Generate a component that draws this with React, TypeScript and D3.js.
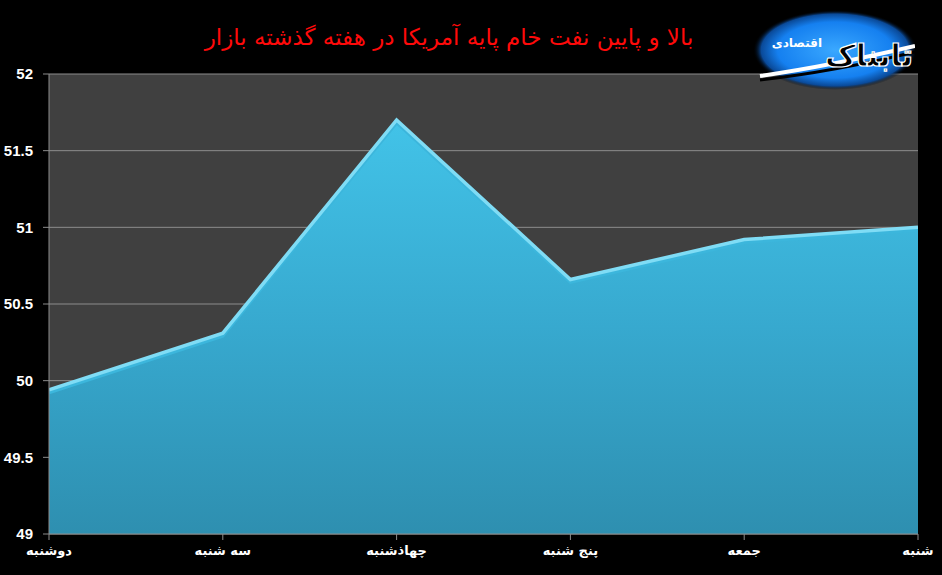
import React from "react";
import * as d3 from "d3";

const title = "بالا و پایین نفت خام پایه آمریکا در هفته گذشته بازار";
const categories = ["دوشنبه", "سه شنبه", "چهاذشنبه", "پنج شنبه", "جمعه", "شنبه"];
const values = [49.94, 50.31, 51.7, 50.66, 50.92, 51.0];
const yTicks = [49, 49.5, 50, 50.5, 51, 51.5, 52];
const yTickLabels = ["49", "49.5", "50", "50.5", "51", "51.5", "52"];

const W = 942;
const H = 575;
const left = 49;
const right = 918;
const top = 74;
const bottom = 534;

export default function App() {
  const x = d3.scalePoint<string>().domain(categories).range([left, right]);
  const y = d3.scaleLinear().domain([49, 52]).range([bottom, top]);
  const pts: [number, number][] = categories.map((c, i) => [x(c)!, y(values[i])]);
  const area = d3.area<[number, number]>().x((d) => d[0]).y0(bottom).y1((d) => d[1]);
  const line = d3.line<[number, number]>().x((d) => d[0]).y((d) => d[1]);
  const lineShift = d3.line<[number, number]>().x((d) => d[0]).y((d) => d[1] + 3);

  return (
    <svg
      width={W}
      height={H}
      style={{ position: "fixed", left: 0, top: 0, background: "#000", display: "block" }}
    >
      <defs>
        <linearGradient id="areaGrad" x1="0" y1="0" x2="0" y2="1">
          <stop offset="0" stopColor="#42c3e8" />
          <stop offset="0.5" stopColor="#37a9cf" />
          <stop offset="1" stopColor="#2e8fb0" />
        </linearGradient>
        <radialGradient id="logoGrad" cx="0.5" cy="0.5" r="0.5">
          <stop offset="0" stopColor="#3aa8ff" />
          <stop offset="0.7" stopColor="#1580f0" />
          <stop offset="0.9" stopColor="#0a4a99" />
          <stop offset="1" stopColor="#000" stopOpacity="0" />
        </radialGradient>
        <clipPath id="plotClip">
          <rect x={left} y={top} width={right - left} height={bottom - top} />
        </clipPath>
        <clipPath id="logoClip">
          <rect x={740} y={0} width={175} height={100} />
        </clipPath>
      </defs>
      <rect x={0} y={0} width={W} height={H} fill="#000" />
      <rect x={left} y={top} width={right - left} height={bottom - top} fill="#404040" />
      {yTicks.map((t, i) => (
        <g key={t}>
          <line x1={left - 6} x2={right} y1={y(t)} y2={y(t)} stroke="#8c8c8c" strokeWidth={1} />
          <text
            x={33}
            y={y(t)}
            dy="0.35em"
            textAnchor="end"
            fill="#fff"
            fontFamily="Liberation Sans, Arial, sans-serif"
            fontWeight="bold"
            fontSize={15}
          >
            {yTickLabels[i]}
          </text>
        </g>
      ))}
      <g clipPath="url(#plotClip)">
        <path d={area(pts)!} fill="url(#areaGrad)" />
        <path d={lineShift(pts)!} fill="none" stroke="#3cb6dc" strokeWidth={3} />
        <path d={line(pts)!} fill="none" stroke="#7fdcf5" strokeWidth={3.5} strokeLinejoin="miter" />
      </g>
      <line x1={left} x2={left} y1={top} y2={bottom} stroke="#8c8c8c" strokeWidth={1} />
      <line x1={left} x2={right} y1={bottom} y2={bottom} stroke="#8c8c8c" strokeWidth={1} />
      {categories.map((c) => (
        <g key={c}>
          <line x1={x(c)!} x2={x(c)!} y1={bottom} y2={bottom + 6} stroke="#8c8c8c" strokeWidth={1} />
          <text
            x={x(c)!}
            y={555}
            textAnchor="middle"
            fill="#fff"
            fontFamily="DejaVu Sans, sans-serif"
            fontWeight="bold"
            fontSize={13}
            direction="rtl"
          >
            {c}
          </text>
        </g>
      ))}
      <text
        x={449}
        y={45}
        textAnchor="middle"
        fill="#ff0a0a"
        fontFamily="DejaVu Sans, sans-serif"
        fontSize={23}
        direction="rtl"
      >
        {title}
      </text>
      <g clipPath="url(#logoClip)">
        <ellipse cx={835} cy={50} rx={82} ry={40} fill="url(#logoGrad)" />
        <path d="M760 76 Q830 66 915 46" stroke="#fff" strokeWidth={4} fill="none" />
        <path d="M760 80 Q832 72 915 52" stroke="#000" strokeWidth={3} fill="none" />
        <text
          x={913}
          y={66}
          textAnchor="start"
          fill="#000"
          stroke="#fff"
          strokeWidth={1.2}
          fontFamily="DejaVu Sans, sans-serif"
          fontWeight="bold"
          fontSize={30}
          direction="rtl"
        >
          تابناک
        </text>
        <text
          x={822}
          y={47}
          textAnchor="start"
          fill="#fff"
          fontFamily="DejaVu Sans, sans-serif"
          fontWeight="bold"
          fontSize={12}
          direction="rtl"
        >
          اقتصادی
        </text>
      </g>
    </svg>
  );
}
